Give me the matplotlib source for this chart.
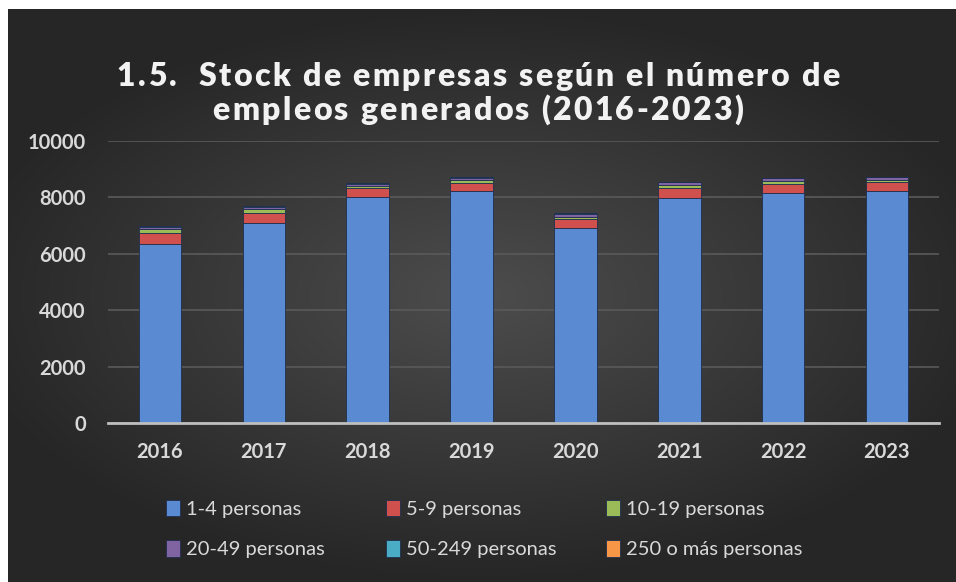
import numpy as np
import matplotlib.pyplot as plt

years = ['2016', '2017', '2018', '2019', '2020', '2021', '2022', '2023']
p1_4 = [6330, 7080, 8020, 8240, 6900, 7970, 8150, 8230]
p5_9 = [390, 355, 320, 285, 320, 375, 330, 305]
p10_19 = [150, 140, 75, 95, 92, 105, 105, 92]
p20_49 = [85, 95, 60, 80, 110, 90, 95, 90]
p50_249 = [25, 25, 20, 20, 20, 20, 20, 20]
p250 = [3, 3, 3, 3, 3, 3, 3, 3]

labels = ['1-4 personas', '5-9 personas', '10-19 personas',
          '20-49 personas', '50-249 personas', '250 o más personas']
colors = ['#5a8ad2', '#d0504e', '#9bbb59', '#8064a2', '#4bacc6', '#f79646']
series = [p1_4, p5_9, p10_19, p20_49, p50_249, p250]

plt.rcParams['font.family'] = ['Lato', 'DejaVu Sans']
W, H = 956, 582
fig = plt.figure(figsize=(W / 100, H / 100), dpi=100)
fig.patch.set_facecolor('white')

# dark radial-gradient background
bg = fig.add_axes([8 / W, 0, 1 - 8 / W, 1 - 9 / H])
yy, xx = np.mgrid[-1:1:300j, -1:1:500j]
r = np.sqrt((xx * 0.9) ** 2 + (yy * 1.0) ** 2)
g = np.clip(0.30 - 0.15 * r, 0.15, 0.30)
bg.imshow(np.dstack([g, g, g]), aspect='auto', extent=[0, 1, 0, 1])
bg.axis('off')

ax = fig.add_axes([108 / W, (H - 423) / H, (939 - 108) / W, (423 - 141) / H])
ax.patch.set_alpha(0)
x = np.arange(len(years))
bottom = np.zeros(len(years))
handles = []
for vals, lab, c in zip(series, labels, colors):
    b = ax.bar(x, vals, 0.41, bottom=bottom, color=c, label=lab,
               edgecolor='#1f2f4f', linewidth=0.6, zorder=3)
    handles.append(b)
    bottom += np.array(vals)

ax.set_xlim(-0.5, len(years) - 0.5)
ax.set_ylim(0, 10000)
ax.set_yticks(range(0, 10001, 2000))
ax.set_xticks(x)
ax.set_xticklabels(years)
ax.grid(axis='y', color='#5a5a5a', linewidth=1.2, zorder=0)
for s in ['top', 'right', 'left']:
    ax.spines[s].set_visible(False)
ax.spines['bottom'].set_color('#bfbfbf')
ax.spines['bottom'].set_linewidth(2)
ax.spines['bottom'].set_zorder(4)
ax.tick_params(length=0, colors='#d9d9d9', labelsize=14.5)
ax.tick_params(axis='y', pad=16)
ax.tick_params(axis='x', pad=14)
for t in ax.get_xticklabels() + ax.get_yticklabels():
    t.set_fontweight('bold')

# title with expanded letter spacing
renderer = fig.canvas.get_renderer()


def text_width(s, size):
    t = fig.text(0, 0, s, fontsize=size, fontweight='heavy')
    w = t.get_window_extent(renderer).width
    t.remove()
    return w


def spaced_title(s, y_px, size, gap):
    base = text_width('|', size)
    pos = [text_width(s[:i] + '|', size) - base if i else 0 for i in range(len(s))]
    total = text_width(s, size) + gap * (len(s) - 1)
    x0 = W / 2 - total / 2
    for i, ch in enumerate(s):
        fig.text((x0 + pos[i] + gap * i) / W, 1 - y_px / H, ch, fontsize=size,
                 fontweight='heavy', color='#f2f2f2', va='baseline', ha='left')


spaced_title('1.5.  Stock de empresas según el número de', 86, 23, 2.4)
spaced_title('empleos generados (2016-2023)', 120, 23, 2.4)

# legend: three columns, filled row by row
col_x = [166, 386, 606]
for j in range(3):
    hs = [handles[j], handles[j + 3]]
    ls = [labels[j], labels[j + 3]]
    leg = fig.legend(hs, ls, loc='center left', bbox_to_anchor=(col_x[j] / W, 1 - 529 / H),
                     frameon=False, fontsize=14.5, labelcolor='#d9d9d9',
                     handlelength=0.7, handleheight=0.9, handletextpad=0.3,
                     labelspacing=1.1, borderpad=0, borderaxespad=0)

fig.savefig('out.png', dpi=100, facecolor='white')
